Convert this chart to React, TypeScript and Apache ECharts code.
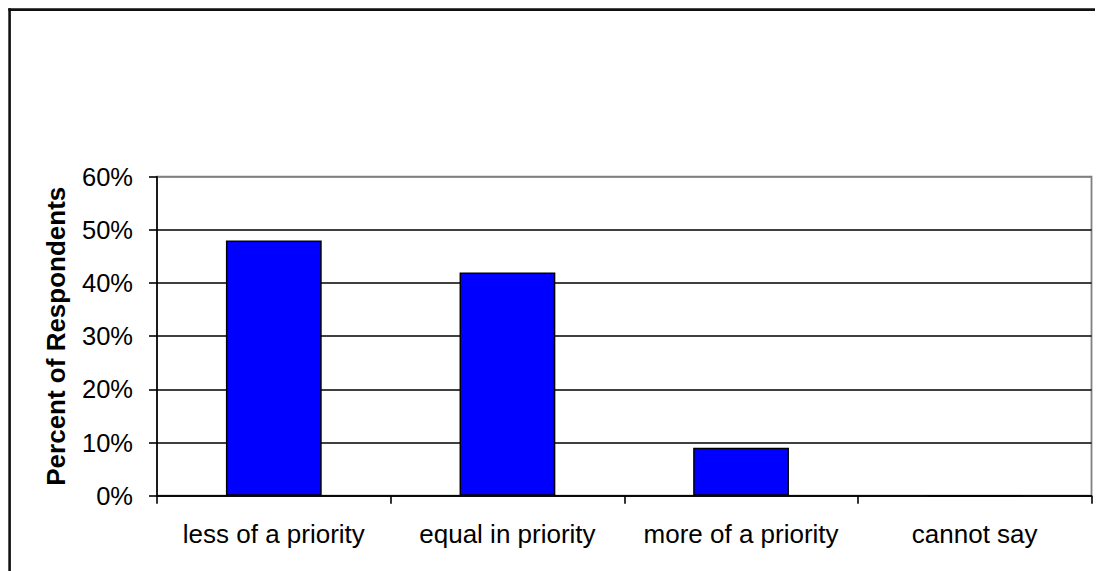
import React, { useEffect, useRef } from "react";
import * as echarts from "echarts";

// Survey responses: how the topic ranks in priority
const categories = ["less of a priority", "equal in priority", "more of a priority", "cannot say"];
const percentValues = [48, 42, 9, 0];
const yTicks = { min: 0, max: 60, interval: 10 };

const FONT = "'Liberation Sans', Arial, sans-serif";

export default function App() {
  const ref = useRef<HTMLDivElement>(null);

  useEffect(() => {
    if (!ref.current) return;
    const chart = echarts.init(ref.current, null, { renderer: "svg" });
    const frameStyle = { stroke: "#111111", lineWidth: 2.6 };
    chart.setOption({
      animation: false,
      backgroundColor: "#ffffff",
      // outer frame: only its top and left edges fall inside the page
      graphic: [
        {
          type: "line",
          z: 100,
          silent: true,
          shape: { x1: 8.3, y1: 9.6, x2: 1095, y2: 9.6 },
          style: frameStyle,
        },
        {
          type: "line",
          z: 100,
          silent: true,
          shape: { x1: 9.6, y1: 8.3, x2: 9.6, y2: 571 },
          style: frameStyle,
        },
      ],
      grid: {
        left: 157,
        right: 4.5,
        top: 176.7,
        bottom: 75.3,
        show: true,
        borderColor: "#808080",
        borderWidth: 1.8,
        backgroundColor: "transparent",
      },
      xAxis: {
        type: "category",
        data: categories,
        boundaryGap: true,
        axisLine: { show: true, lineStyle: { color: "#000000", width: 1.6 } },
        axisTick: { show: true, length: 8, inside: false, lineStyle: { color: "#000000", width: 1.6 } },
        axisLabel: {
          margin: 25,
          color: "#000000",
          fontFamily: FONT,
          fontSize: 26,
          interval: 0,
        },
        splitLine: { show: false },
      },
      yAxis: {
        type: "value",
        min: yTicks.min,
        max: yTicks.max,
        interval: yTicks.interval,
        name: "Percent of Respondents",
        nameLocation: "middle",
        nameGap: 88,
        nameRotate: 90,
        nameTextStyle: {
          color: "#000000",
          fontFamily: FONT,
          fontSize: 26,
          fontWeight: "bold",
        },
        axisLine: { show: true, lineStyle: { color: "#000000", width: 1.6 } },
        axisTick: { show: true, length: 8, inside: false, lineStyle: { color: "#000000", width: 1.6 } },
        axisLabel: {
          margin: 24,
          color: "#000000",
          fontFamily: FONT,
          fontSize: 25.5,
          formatter: "{value}%",
        },
        splitLine: {
          show: true,
          lineStyle: {
            color: ["#000000", "#000000", "#000000", "#000000", "#000000", "#000000", "#808080"],
            width: 1.6,
          },
        },
      },
      series: [
        {
          type: "bar",
          data: percentValues,
          barCategoryGap: "59%",
          itemStyle: { color: "#0000ff", borderColor: "#000000", borderWidth: 1.5 },
        },
      ],
    });
    return () => chart.dispose();
  }, []);

  return (
    <div
      ref={ref}
      style={{ position: "fixed", left: 0, top: 0, width: 1096, height: 571 }}
    />
  );
}
